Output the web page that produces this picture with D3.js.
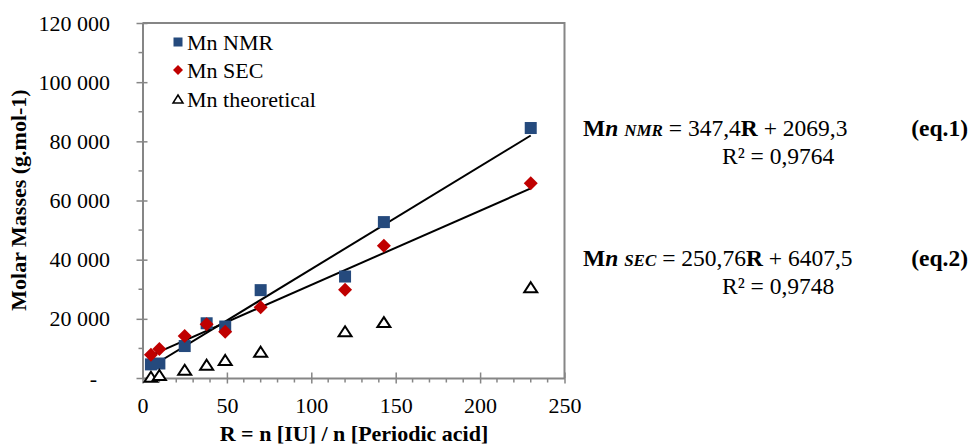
<!DOCTYPE html>
<html>
<head>
<meta charset="utf-8">
<script src="https://cdn.jsdelivr.net/npm/d3@7"></script>
<style>
  html, body { margin: 0; padding: 0; background: #fff; }
  svg { display: block; }
</style>
</head>
<body>
<svg id="chart" width="976" height="445"></svg>
<script>
// ---- data ----
const ratioR = [5, 10, 25, 38, 49, 70, 120, 143, 230];
const mnNMR  = [4600, 4900, 10800, 18500, 17400, 29700, 34300, 52700, 84500];
const mnSEC  = [7900, 9800, 14200, 18200, 15600, 23900, 29800, 44700, 65800];
const mnTheo = [400, 1000, 2800, 4500, 6100, 8900, 15800, 18900, 30700];
const seriesNames = ["Mn NMR", "Mn SEC", "Mn theoretical"];
const fitSlopes = [347.4, 250.76];
const fitIntercepts = [2069.3, 6407.5];
const xTicks = [0, 50, 100, 150, 200, 250];
const yTicks = [0, 20000, 40000, 60000, 80000, 100000, 120000];
const xTitle = "R = n [IU] / n [Periodic acid]";
const yTitle = "Molar Masses (g.mol-1)";

// ---- layout ----
const svg = d3.select("#chart");
const L = 142.5, R = 564.5, T = 23, B = 378;
const x = d3.scaleLinear().domain([0, 250]).range([L, R]);
const y = d3.scaleLinear().domain([0, 120000]).range([B, T]);
const axisCol = "#868686";
const blue = "#254A7D", red = "#C00000";
const FONT = "'Liberation Serif'";
const FS = "22px";
const styleText = sel => sel.style("font-family", FONT).style("font-size", FS).style("fill", "#000");

// plot border (top/right)
svg.append("path")
  .attr("d", `M${L},${T}H${R}V${B}`)
  .attr("fill", "none").attr("stroke", axisCol).attr("stroke-width", 2);

// minor ticks
const xMinor = d3.range(0, 251, 10).filter(v => v % 50 !== 0);
const yMinor = d3.range(0, 120001, 10000).filter(v => v % 20000 !== 0);
svg.append("g").selectAll("line").data(xMinor).join("line")
  .attr("x1", d => x(d)).attr("x2", d => x(d)).attr("y1", B).attr("y2", B + 4.5)
  .attr("stroke", axisCol).attr("stroke-width", 1.5);
svg.append("g").selectAll("line").data(yMinor).join("line")
  .attr("y1", d => y(d)).attr("y2", d => y(d)).attr("x1", L - 4).attr("x2", L)
  .attr("stroke", axisCol).attr("stroke-width", 1.5);

// axes
const fmtY = v => v === 0 ? "-" : d3.format(",")(v).replace(/,/g, " ");
const gx = svg.append("g").attr("transform", `translate(0,${B})`)
  .call(d3.axisBottom(x).tickValues(xTicks).tickSize(5.5).tickSizeOuter(0).tickPadding(14));
const gy = svg.append("g").attr("transform", `translate(${L},0)`)
  .call(d3.axisLeft(y).tickValues(yTicks).tickFormat(fmtY).tickSize(6).tickSizeOuter(0).tickPadding(26.5));
[gx, gy].forEach(g => {
  g.attr("font-family", null).attr("font-size", null);
  g.select(".domain").attr("stroke", axisCol).attr("stroke-width", 2);
  g.selectAll(".tick line").attr("stroke", axisCol).attr("stroke-width", 1.5);
  g.selectAll(".tick text").call(styleText);
});
gx.selectAll(".tick line").attr("y1", -5.5);
gy.selectAll(".tick line").attr("x1", 5);
gy.selectAll(".tick text").filter(d => d === 0).attr("dx", -13);

// fit lines
const xr = d3.extent(ratioR);
[0, 1].forEach(i => {
  svg.append("line")
    .attr("x1", x(xr[0])).attr("y1", y(fitSlopes[i] * xr[0] + fitIntercepts[i]))
    .attr("x2", x(xr[1])).attr("y2", y(fitSlopes[i] * xr[1] + fitIntercepts[i]))
    .attr("stroke", "#000").attr("stroke-width", 2);
});

// markers
const sq = 12, dm = 7, tw = 6.5, th = 10;
const triPath = (cx, cy) => `M${cx},${cy - th/2}L${cx + tw},${cy + th/2}L${cx - tw},${cy + th/2}Z`;
const diaPath = (cx, cy, r) => `M${cx},${cy - r}L${cx + r},${cy}L${cx},${cy + r}L${cx - r},${cy}Z`;

svg.append("g").selectAll("rect").data(ratioR).join("rect")
  .attr("x", (d) => x(d) - sq/2).attr("y", (d, i) => y(mnNMR[i]) - sq/2)
  .attr("width", sq).attr("height", sq).attr("fill", blue);
svg.append("g").selectAll("path").data(ratioR).join("path")
  .attr("d", (d, i) => diaPath(x(d), y(mnSEC[i]), dm)).attr("fill", red);
svg.append("g").selectAll("path").data(ratioR).join("path")
  .attr("d", (d, i) => triPath(x(d), y(mnTheo[i]))).attr("fill", "#fff")
  .attr("stroke", "#000").attr("stroke-width", 2).attr("stroke-linejoin", "miter");

// legend
const lg = svg.append("g");
const ly = [42, 70, 99];
lg.append("rect").attr("x", 173.5).attr("y", ly[0] - 4.5).attr("width", 9).attr("height", 9).attr("fill", blue);
lg.append("path").attr("d", diaPath(178, ly[1], 5)).attr("fill", red);
lg.append("path").attr("d", `M178,${ly[2]-4}L183,${ly[2]+4}L173,${ly[2]+4}Z`)
  .attr("fill", "#fff").attr("stroke", "#000").attr("stroke-width", 1.5);
lg.selectAll("text").data(seriesNames).join("text")
  .attr("x", 187).attr("y", (d, i) => ly[i] + 7.5)
  .call(styleText).text(d => d);

// axis titles
svg.append("text").attr("x", 354).attr("y", 441).call(styleText)
  .attr("text-anchor", "middle").style("font-weight", "bold").text(xTitle);
svg.append("text").attr("transform", "translate(26,200) rotate(-90)").call(styleText)
  .attr("text-anchor", "middle").style("font-weight", "bold").text(yTitle);

// equations
function equation(yBase, sub, slope, intercept, r2, tag) {
  const t = svg.append("text").attr("x", 583).attr("y", yBase).call(styleText).style("font-size", "23.5px");
  t.append("tspan").style("font-weight", "bold").text("M");
  t.append("tspan").style("font-weight", "bold").style("font-style", "italic").text("n ");
  t.append("tspan").style("font-weight", "bold").style("font-style", "italic").style("font-size", "17px").text(sub);
  t.append("tspan").text(" = " + slope);
  t.append("tspan").style("font-weight", "bold").text("R");
  t.append("tspan").text(" + " + intercept);
  svg.append("text").attr("x", 968).attr("y", yBase).attr("text-anchor", "end").call(styleText)
    .style("font-size", "23.5px").style("font-weight", "bold").text(tag);
  svg.append("text").attr("x", 722).attr("y", yBase + 28).call(styleText)
    .style("font-size", "23.5px").text("R\u00B2 = " + r2);
}
equation(136, "NMR", "347,4", "2069,3", "0,9764", "(eq.1)");
equation(266, "SEC", "250,76", "6407,5", "0,9748", "(eq.2)");
</script>
</body>
</html>
